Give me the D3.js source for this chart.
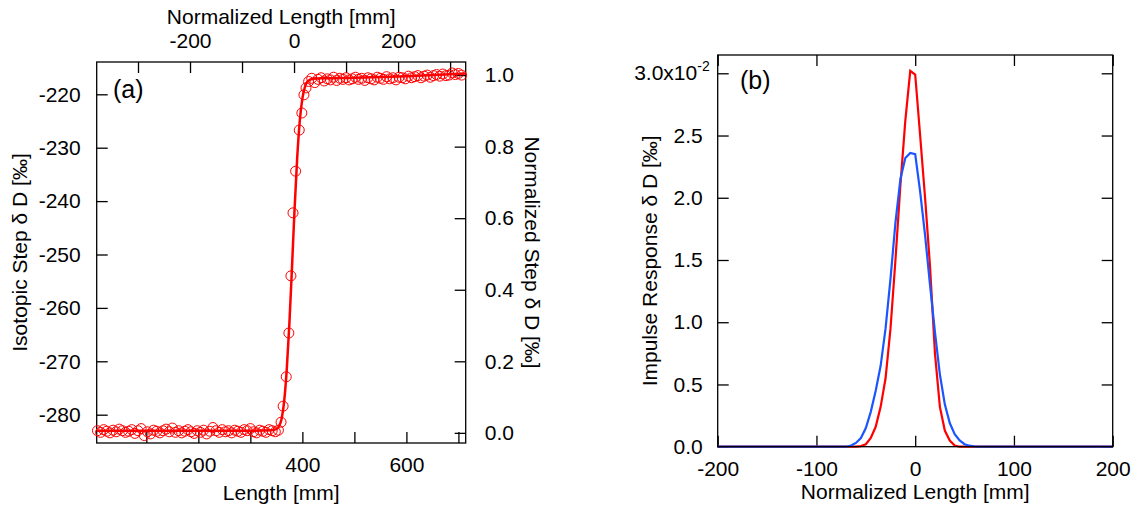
<!DOCTYPE html>
<html><head><meta charset="utf-8">
<script src="https://cdn.jsdelivr.net/npm/d3@7"></script>
<style>body{margin:0;background:#fff}svg{font-family:"Liberation Sans",Arial,sans-serif}</style>
</head><body><svg id="c" width="1137" height="508"></svg>
<script>
// Panel (a) data: measured points
const lenLow = [6,12,18,24,30,36,42,48,54,60,66,72,78,84,90,96,102,108,114,120,126,132,138,144,150,156,162,168,174,180,186,192,198,204,210,216,222,228,234,240,246,252,258,264,270,276,282,288,294,300,306,312,318,324,330,336,342,348,354];
const valLow = [-283.0,-283.3,-282.8,-283.1,-283.4,-282.9,-283.2,-282.7,-283.0,-283.3,-283.1,-282.8,-283.5,-283.0,-282.6,-283.9,-283.2,-283.6,-282.9,-283.1,-283.4,-283.0,-282.7,-283.2,-282.5,-283.3,-283.0,-283.4,-283.1,-282.8,-283.2,-283.5,-283.0,-283.3,-282.9,-283.6,-283.1,-282.4,-283.0,-283.3,-282.8,-283.2,-283.0,-283.4,-282.9,-283.1,-283.3,-282.8,-283.0,-282.6,-283.2,-283.4,-282.9,-283.1,-283.3,-282.8,-283.0,-283.2,-282.9];
const lenRise = [359,363,369,374,378,382,387,394,399,403,407];
const valRise = [-281.4,-278.4,-272.9,-264.7,-254.0,-242.2,-234.4,-226.7,-223.5,-220.1,-218.8];
const lenHigh = [412,418,424,430,436,442,448,454,460,466,472,478,484,490,496,502,508,514,520,526,532,538,544,550,556,562,568,574,580,586,592,598,604,610,616,622,628,634,640,646,652,658,664,670,676,682,688,694,700,706];
const valHigh = [-217.6,-217.0,-217.8,-217.2,-216.9,-217.5,-217.1,-217.3,-216.8,-217.4,-217.0,-217.2,-216.9,-217.3,-217.1,-216.8,-217.2,-217.0,-217.4,-216.9,-217.1,-217.3,-216.8,-217.0,-217.2,-216.7,-217.1,-216.9,-217.3,-216.8,-216.9,-217.1,-216.6,-216.9,-216.7,-216.5,-216.9,-216.6,-216.4,-216.8,-216.5,-216.3,-216.6,-216.2,-216.5,-216.4,-216.0,-216.3,-216.1,-216.4];
// Panel (a) fitted curve
const fitLen = [5,100,200,300,340,350,355,360,365,370,375,380,385,390,395,400,405,410,420,440,500,600,714];
const fitVal = [-283.0,-283.0,-283.0,-283.0,-282.9,-282.7,-282.2,-280.8,-277.5,-271.5,-263.0,-252.5,-241.5,-232.0,-225.0,-220.8,-218.6,-217.6,-217.1,-217.0,-216.9,-216.6,-216.1];
// Panel (b) impulse responses
const redX = [-200,-60,-55,-50,-45,-40,-35,-30,-25,-20,-15,-10,-5,0,5,10,15,20,25,30,35,40,45,200];
const redY = [0,0,0.005,0.02,0.07,0.16,0.32,0.55,0.95,1.5,2.1,2.62,3.02,2.99,2.5,2.0,1.45,0.75,0.32,0.13,0.05,0.01,0,0];
const blueX = [-200,-70,-65,-60,-55,-50,-45,-40,-35,-30,-25,-20,-15,-10,-5,0,5,10,15,20,25,30,35,40,45,50,55,60,65,200];
const blueY = [0,0,0.01,0.03,0.07,0.15,0.28,0.45,0.65,0.95,1.35,1.8,2.15,2.32,2.36,2.35,2.05,1.7,1.3,0.92,0.58,0.34,0.19,0.1,0.05,0.02,0.008,0.002,0,0];

const ticksLenA = [100,200,300,400,500,600,700], labLenA=[200,400,600];
const ticksNormA = [-300,-200,-100,0,100,200,300], labNormA=[-200,0,200];
const ticksIsoA = [-280,-270,-260,-250,-240,-230,-220];
const ticksStepA = [0,0.2,0.4,0.6,0.8,1.0];
const ticksXB = [-200,-100,0,100,200];
const ticksYB = [0,0.5,1,1.5,2,2.5,3];

const svg = d3.select("#c");
const FS = 21, TL = 11;
const hy = d => String(d).replace("−","-");
function box(g,x0,x1,y0,y1){g.append("rect").attr("x",x0).attr("y",y0).attr("width",x1-x0).attr("height",y1-y0).attr("fill","none").attr("stroke","#000").attr("stroke-width",1.3);}
function axis(g,gen,tr){const a=g.append("g").attr("transform",tr).call(gen);a.select(".domain").remove();a.selectAll("line").attr("stroke","#000").attr("stroke-width",1.3);a.selectAll("text").attr("font-size",FS).attr("fill","#000").attr("font-family","Liberation Sans, Arial, sans-serif");return a;}

// ---- Panel (a)
const ax0=96.7, ax1=465.7, ay0=62, ay1=443;
const xA = d3.scaleLinear().domain([4.6,714]).range([ax0,ax1]);
const xN = d3.scaleLinear().domain([4.6-384,714-384]).range([ax0,ax1]);
const yA = d3.scaleLinear().domain([-285.3,-213.95]).range([ay1,ay0]);
const yS = d3.scaleLinear().domain([0,1]).range([yA(-283.4),yA(-216.4)]);
const gA = svg.append("g");
box(gA,ax0,ax1,ay0,ay1);
axis(gA,d3.axisBottom(xA).tickValues(ticksLenA).tickSizeInner(-TL).tickPadding(TL+3).tickFormat(d=>labLenA.includes(d)?d:""),`translate(0,${ay1})`);
axis(gA,d3.axisTop(xN).tickValues(ticksNormA).tickSizeInner(-TL).tickPadding(TL+3).tickFormat(d=>labNormA.includes(d)?hy(d):""),`translate(0,${ay0})`);
axis(gA,d3.axisLeft(yA).tickValues(ticksIsoA).tickSizeInner(-TL).tickPadding(TL+5).tickFormat(hy),`translate(${ax0},0)`);
axis(gA,d3.axisRight(yS).tickValues(ticksStepA).tickSizeInner(-TL).tickPadding(TL+8).tickFormat(d3.format(".1f")),`translate(${ax1},0)`);
const pts = lenLow.map((l,i)=>[l,valLow[i]]).concat(lenRise.map((l,i)=>[l,valRise[i]]),lenHigh.map((l,i)=>[l,valHigh[i]]));
gA.append("g").selectAll("circle").data(pts).join("circle").attr("cx",d=>xA(d[0])).attr("cy",d=>yA(d[1])).attr("r",5).attr("fill","none").attr("stroke","#f00").attr("stroke-width",1);
gA.append("path").datum(fitLen.map((l,i)=>[l,fitVal[i]])).attr("d",d3.line().x(d=>xA(d[0])).y(d=>yA(d[1])).curve(d3.curveMonotoneX)).attr("fill","none").attr("stroke","#f00").attr("stroke-width",2.5);
gA.append("text").attr("x",113).attr("y",98).attr("font-size",25).text("(a)");
gA.append("text").attr("x",(ax0+ax1)/2).attr("y",24).attr("text-anchor","middle").attr("font-size",FS).text("Normalized Length [mm]");
gA.append("text").attr("x",(ax0+ax1)/2).attr("y",500).attr("text-anchor","middle").attr("font-size",FS).text("Length [mm]");
gA.append("text").attr("transform",`translate(27,${(ay0+ay1)/2}) rotate(-90)`).attr("text-anchor","middle").attr("font-size",FS).text("Isotopic Step δ D [‰]");
gA.append("text").attr("transform",`translate(525,${(ay0+ay1)/2}) rotate(90)`).attr("text-anchor","middle").attr("font-size",FS).text("Normalized Step δ D [‰]");

// ---- Panel (b)
const bx0=717.7, bx1=1112.7, by0=55, by1=446.7;
const xB = d3.scaleLinear().domain([-200,200]).range([bx0,bx1]);
const yB = d3.scaleLinear().domain([0,(by1-by0)/124.47]).range([by1,by0]);
const gB = svg.append("g");
axis(gB,d3.axisBottom(xB).tickValues(ticksXB).tickSizeInner(-TL).tickPadding(TL+3).tickFormat(hy),`translate(0,${by1})`);
axis(gB,d3.axisTop(xB).tickValues(ticksXB).tickSizeInner(-TL).tickFormat(""),`translate(0,${by0})`);
axis(gB,d3.axisLeft(yB).tickValues(ticksYB).tickSizeInner(-TL).tickPadding(TL+4).tickFormat(d=>d===3?"":d3.format(".1f")(d)),`translate(${bx0},0)`);
axis(gB,d3.axisRight(yB).tickValues(ticksYB).tickSizeInner(-TL).tickFormat(""),`translate(${bx1},0)`);
const t3 = gB.append("text").attr("x",bx0-8).attr("y",yB(3)+7).attr("text-anchor","end").attr("font-size",FS);
t3.append("tspan").text("3.0x10");
t3.append("tspan").attr("font-size",14).attr("dy",-9).text("-2");
gB.append("path").datum(redX.map((x,i)=>[x,redY[i]])).attr("d",d3.line().x(d=>xB(d[0])).y(d=>yB(d[1]))).attr("fill","none").attr("stroke","#f00").attr("stroke-width",2.2);
gB.append("path").datum(blueX.map((x,i)=>[x,blueY[i]])).attr("d",d3.line().x(d=>xB(d[0])).y(d=>yB(d[1]))).attr("fill","none").attr("stroke","#1a55ff").attr("stroke-width",2.2);
box(gB,bx0,bx1,by0,by1);
gB.append("text").attr("x",740).attr("y",89).attr("font-size",25).text("(b)");
gB.append("text").attr("x",(bx0+bx1)/2).attr("y",499).attr("text-anchor","middle").attr("font-size",FS).text("Normalized Length [mm]");
gB.append("text").attr("transform",`translate(657,${(by0+by1)/2+10}) rotate(-90)`).attr("text-anchor","middle").attr("font-size",FS).text("Impulse Response δ D [‰]");
</script></body></html>
